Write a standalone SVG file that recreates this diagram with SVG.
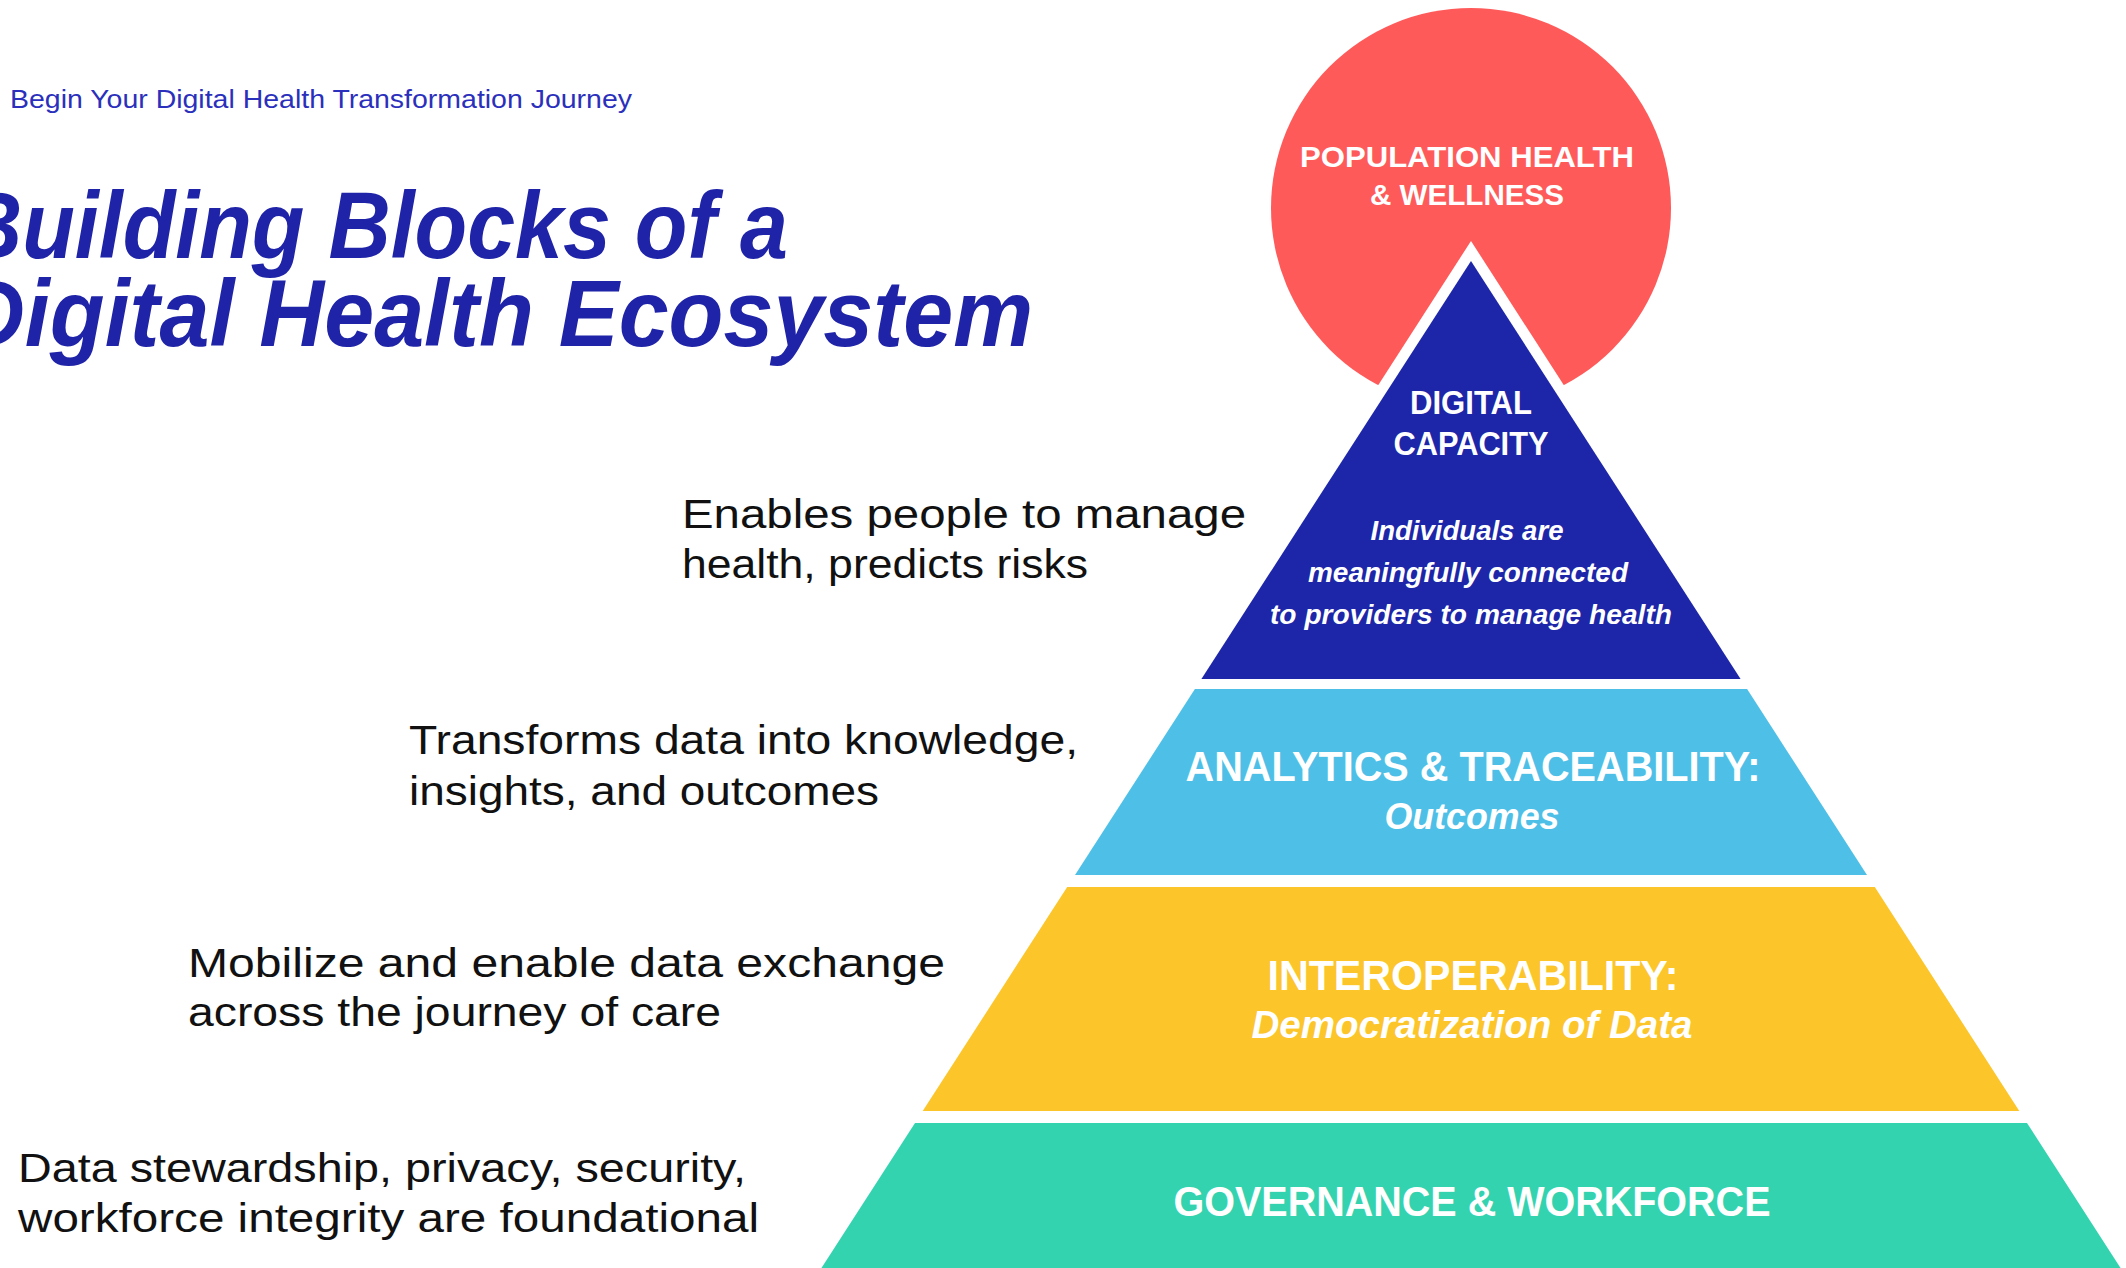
<svg xmlns="http://www.w3.org/2000/svg" width="2126" height="1268" viewBox="0 0 2126 1268">
<style>
.sub{font-family:"Liberation Sans",Arial,sans-serif;font-size:25px;fill:#2B30BC}
.title{font-family:"Liberation Sans",Arial,sans-serif;font-size:95px;font-weight:bold;font-style:italic;fill:#1F23A8}
.desc{font-family:"Liberation Sans",Arial,sans-serif;font-size:40px;fill:#111111}
.lbl{font-family:"Liberation Sans Narrow","Liberation Sans",Arial,sans-serif;font-weight:bold;fill:#FFFFFF;text-anchor:middle}
.it{font-style:italic;font-weight:600}
</style>
<rect x="0" y="0" width="2126" height="1268" fill="#FFFFFF"/>
<g id="header">
<text class="sub" x="10" y="108" textLength="622" lengthAdjust="spacingAndGlyphs">Begin Your Digital Health Transformation Journey</text>
<text class="title" x="-40" y="258" textLength="828" lengthAdjust="spacingAndGlyphs">Building Blocks of a</text>
<text class="title" x="-40" y="346" textLength="1073" lengthAdjust="spacingAndGlyphs">Digital Health Ecosystem</text>
</g>
<g id="population-health">
<circle cx="1471" cy="208" r="200" fill="#FF5A5A"/>
<polygon points="1471,241 1182,690 1760,690" fill="#FFFFFF"/>
<text class="lbl" x="1467" y="167" font-size="30" textLength="334" lengthAdjust="spacingAndGlyphs">POPULATION HEALTH</text>
<text class="lbl" x="1467" y="205" font-size="30" textLength="194" lengthAdjust="spacingAndGlyphs">&amp; WELLNESS</text>
</g>
<g id="digital-capacity">
<polygon points="1471,261 1201.4,679 1740.6,679" fill="#1D25A9"/>
<text class="lbl" x="1471" y="414" font-size="33" textLength="122" lengthAdjust="spacingAndGlyphs">DIGITAL</text>
<text class="lbl" x="1471" y="455" font-size="33" textLength="155" lengthAdjust="spacingAndGlyphs">CAPACITY</text>
<text class="lbl it" x="1467" y="540" font-size="28" textLength="193" lengthAdjust="spacingAndGlyphs">Individuals are</text>
<text class="lbl it" x="1468" y="582" font-size="28" textLength="320" lengthAdjust="spacingAndGlyphs">meaningfully connected</text>
<text class="lbl it" x="1471" y="624" font-size="28" textLength="402" lengthAdjust="spacingAndGlyphs">to providers to manage health</text>
</g>
<g id="analytics">
<polygon points="1194.9,689 1747.1,689 1867,875 1075,875" fill="#4EC0E7"/>
<text class="lbl" x="1473" y="781" font-size="43" textLength="575" lengthAdjust="spacingAndGlyphs">ANALYTICS &amp; TRACEABILITY:</text>
<text class="lbl it" x="1472" y="829" font-size="37" textLength="175" lengthAdjust="spacingAndGlyphs">Outcomes</text>
</g>
<g id="interoperability">
<polygon points="1067.2,887 1874.8,887 2019.3,1111 922.7,1111" fill="#FCC52A"/>
<text class="lbl" x="1473" y="990" font-size="42" textLength="411" lengthAdjust="spacingAndGlyphs">INTEROPERABILITY:</text>
<text class="lbl it" x="1472" y="1038" font-size="39" textLength="441" lengthAdjust="spacingAndGlyphs">Democratization of Data</text>
</g>
<g id="governance">
<polygon points="915,1123 2027,1123 2128.3,1280 813.7,1280" fill="#33D3B0"/>
<text class="lbl" x="1472" y="1216" font-size="43" textLength="597" lengthAdjust="spacingAndGlyphs">GOVERNANCE &amp; WORKFORCE</text>
</g>
<g id="descriptions">
<text class="desc" x="682" y="528" textLength="564" lengthAdjust="spacingAndGlyphs">Enables people to manage</text>
<text class="desc" x="682" y="578" textLength="406" lengthAdjust="spacingAndGlyphs">health, predicts risks</text>
<text class="desc" x="409" y="754" textLength="669" lengthAdjust="spacingAndGlyphs">Transforms data into knowledge,</text>
<text class="desc" x="409" y="805" textLength="470" lengthAdjust="spacingAndGlyphs">insights, and outcomes</text>
<text class="desc" x="188" y="977" textLength="757" lengthAdjust="spacingAndGlyphs">Mobilize and enable data exchange</text>
<text class="desc" x="188" y="1026" textLength="533" lengthAdjust="spacingAndGlyphs">across the journey of care</text>
<text class="desc" x="18" y="1182" textLength="728" lengthAdjust="spacingAndGlyphs">Data stewardship, privacy, security,</text>
<text class="desc" x="18" y="1232" textLength="741" lengthAdjust="spacingAndGlyphs">workforce integrity are foundational</text>
</g>
<g id="connectors"/>
</svg>
